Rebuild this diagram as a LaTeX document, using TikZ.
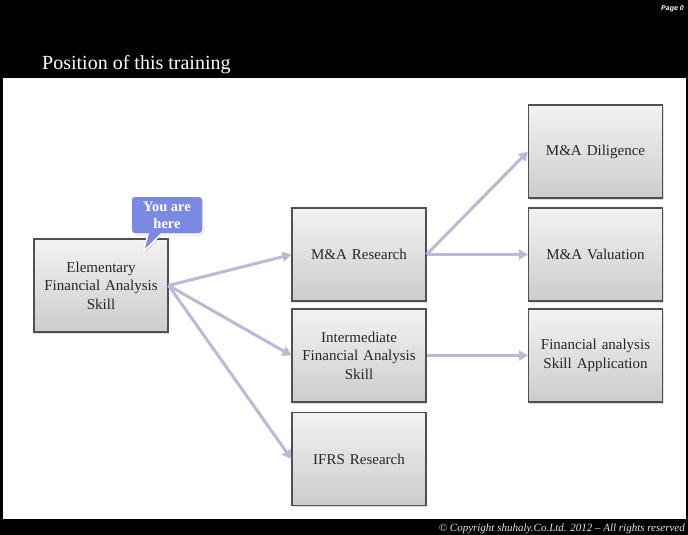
\documentclass[tikz,border=0pt]{standalone}
\usepackage{fontspec}
\setmainfont{Liberation Serif}
\newfontfamily\pagefont{Liberation Sans}
\usetikzlibrary{arrows.meta,shapes.callouts,shadows}

\definecolor{flowcol}{RGB}{186,186,216}
\definecolor{herecol}{RGB}{122,138,226}
\definecolor{boxline}{RGB}{80,80,80}

\begin{document}
\begin{tikzpicture}[x=1pt,y=-1pt,
    skillbox/.style={draw=boxline, line width=1.2pt, top color=gray!10, bottom color=gray!40,
      minimum width=134pt, minimum height=93pt, text width=126pt, align=center,
      font=\fontsize{15}{18.5}\selectfont, text=black!85,
      drop shadow={opacity=0.25, shadow xshift=1pt, shadow yshift=-1.5pt}},
    flow/.style={draw=flowcol, line width=3pt, -{Triangle[length=9pt,width=10pt]}}]
  \useasboundingbox (0,0) rectangle (688,535);
  % slide frame
  \fill[black] (0,0) rectangle (688,535);
  \fill[white] (3,78) rectangle (686,519);
  \node[anchor=base west, inner sep=0, text=white, font=\fontsize{20}{24}\selectfont] (title) at (42,70) {Position of this training};
  \node[anchor=north east, inner sep=0, text=white, font=\pagefont\bfseries\itshape\fontsize{7}{8}\selectfont] (page) at (684,5) {Page 0};
  \node[anchor=base east, inner sep=0, text=white!90!black, font=\itshape\fontsize{11}{12}\selectfont] (copy) at (685,531) {\textcopyright{} Copyright shuhaly.Co.Ltd. 2012 -- All rights reserved};
  % skills
  \node[skillbox] (elem) at (101,285.5) {Elementary\\Financial Analysis\\Skill};
  \node[skillbox] (research) at (359,254.5) {M\&A Research};
  \node[skillbox] (inter) at (359,355.5) {Intermediate\\Financial Analysis\\Skill};
  \node[skillbox] (ifrs) at (359,459) {IFRS Research};
  \node[skillbox] (dilig) at (595.5,151.5) {M\&A Diligence};
  \node[skillbox] (valu) at (595.5,254.5) {M\&A Valuation};
  \node[skillbox] (apply) at (595.5,355.5) {Financial analysis\\Skill Application};
  % links
  \draw[flow] (elem.east) to (research.west);
  \draw[flow] (elem.east) to (inter.west);
  \draw[flow] (elem.east) to (ifrs.west);
  \draw[flow] (research.east) to (dilig.west);
  \draw[flow] (research.east) to (valu.west);
  \draw[flow] (inter.east) to (apply.west);
  % marker
  \node[rectangle callout, fill=herecol, draw=white, line width=1.5pt, rounded corners=4pt,
    minimum width=72pt, minimum height=38pt, inner sep=1pt, align=center, text=white,
    font=\bfseries\fontsize{14.5}{17}\selectfont,
    callout absolute pointer={(143,252)}, callout pointer width=13pt,
    drop shadow={opacity=0.25, shadow xshift=1pt, shadow yshift=-1.5pt}] (here) at (167,215) {You are\\here};
\end{tikzpicture}
\end{document}
